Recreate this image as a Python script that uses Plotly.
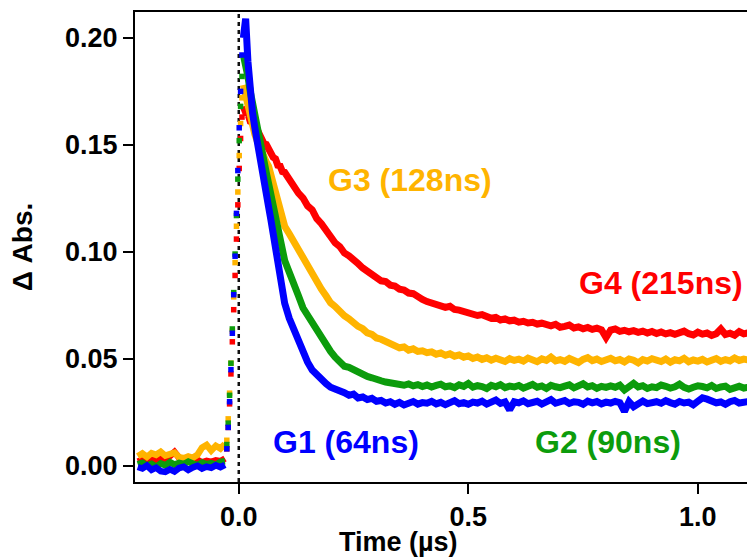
import plotly.graph_objects as go

# ---------------- data ----------------
TIME_PRE = [-0.22, -0.21, -0.20, -0.19, -0.18, -0.17, -0.16, -0.15, -0.14, -0.13,
            -0.12, -0.11, -0.10, -0.09, -0.08, -0.07, -0.06, -0.05, -0.04, -0.03]
TIME_RISE = [-0.026, -0.023, -0.020, -0.017, -0.014, -0.011, -0.008, -0.005, -0.002, 0.001, 0.004, 0.007]
TIME_DECAY = [0.010, 0.015, 0.020, 0.025, 0.030, 0.035, 0.040, 0.045, 0.050, 0.055,
              0.060, 0.065, 0.070, 0.075, 0.080, 0.085, 0.090, 0.095, 0.100,
              0.11, 0.12, 0.13, 0.14, 0.15, 0.16, 0.17, 0.18, 0.19, 0.20,
              0.21, 0.22, 0.23, 0.24, 0.25, 0.26, 0.27, 0.28, 0.29, 0.30,
              0.31, 0.32, 0.33, 0.34, 0.35, 0.36, 0.37, 0.38, 0.39, 0.40,
              0.41, 0.42, 0.43, 0.44, 0.45, 0.46, 0.47, 0.48, 0.49, 0.50,
              0.51, 0.52, 0.53, 0.54, 0.55, 0.56, 0.57, 0.58, 0.59, 0.60,
              0.61, 0.62, 0.63, 0.64, 0.65, 0.66, 0.67, 0.68, 0.69, 0.70,
              0.71, 0.72, 0.73, 0.74, 0.75, 0.76, 0.77, 0.78, 0.79, 0.80,
              0.81, 0.82, 0.83, 0.84, 0.85, 0.86, 0.87, 0.88, 0.89, 0.90,
              0.91, 0.92, 0.93, 0.94, 0.95, 0.96, 0.97, 0.98, 0.99, 1.00,
              1.01, 1.02, 1.03, 1.04, 1.05, 1.06, 1.07, 1.08, 1.09, 1.10, 1.11]

# G1 (blue)
G1_PRE = [-0.0005, -0.0012, 0.0002, -0.0018, -0.0008, -0.0024, -0.0028, -0.0016, -0.0026, -0.0010,
          -0.0004, -0.0019, -0.0007, 0.0001, -0.0012, -0.0003, -0.0009, 0.0003, -0.0006, 0.0005]
G1_RISE = [0.008, 0.018, 0.030, 0.045, 0.062, 0.080, 0.098, 0.118, 0.138, 0.158, 0.175, 0.192]
G1_DECAY = [0.200, 0.209, 0.189, 0.175, 0.165, 0.158, 0.151, 0.145, 0.139, 0.133,
            0.127, 0.121, 0.115, 0.108, 0.101, 0.094, 0.087, 0.081, 0.076,
            0.0690, 0.0635, 0.0575, 0.0520, 0.0485, 0.0448, 0.0425, 0.0398, 0.0385, 0.0368,
            0.0362, 0.0348, 0.0342, 0.0330, 0.0336, 0.0318, 0.0322, 0.0310, 0.0316, 0.0302,
            0.0306, 0.0294, 0.0300, 0.0288, 0.0297, 0.0285, 0.0292, 0.0301, 0.0289, 0.0296,
            0.0293, 0.0302, 0.0290, 0.0297, 0.0286, 0.0299, 0.0305, 0.0291, 0.0296, 0.0288,
            0.0298, 0.0294, 0.0303, 0.0289, 0.0297, 0.0308, 0.0292, 0.0299, 0.0262, 0.0300,
            0.0295, 0.0304, 0.0291, 0.0298, 0.0302, 0.0289, 0.0296, 0.0310, 0.0293, 0.0299,
            0.0306, 0.0292, 0.0300, 0.0297, 0.0288, 0.0303, 0.0295, 0.0301, 0.0290, 0.0298,
            0.0294, 0.0302, 0.0296, 0.0255, 0.0300, 0.0277, 0.0295, 0.0303, 0.0291, 0.0298,
            0.0300, 0.0293, 0.0305, 0.0296, 0.0289, 0.0301, 0.0294, 0.0298, 0.0286, 0.0302,
            0.0318, 0.0312, 0.0303, 0.0295, 0.0299, 0.0288, 0.0300, 0.0306, 0.0294, 0.0298, 0.0301]

# G2 (green)
G2_PRE = [0.0008, 0.0015, 0.0002, 0.0010, -0.0004, 0.0012, 0.0003, 0.0018, 0.0006, 0.0014,
          0.0009, 0.0020, 0.0011, 0.0004, 0.0016, 0.0008, 0.0013, 0.0005, 0.0019, 0.0022]
G2_RISE = [0.010, 0.020, 0.033, 0.048, 0.064, 0.081, 0.099, 0.117, 0.134, 0.152, 0.168, 0.182]
G2_DECAY = [0.192, 0.188, 0.182, 0.175, 0.169, 0.163, 0.157, 0.152, 0.147, 0.142,
            0.137, 0.132, 0.127, 0.122, 0.116, 0.111, 0.105, 0.100, 0.096,
            0.0905, 0.0838, 0.0795, 0.0738, 0.0702, 0.0668, 0.0628, 0.0598, 0.0562, 0.0535,
            0.0508, 0.0492, 0.0466, 0.0461, 0.0448, 0.0436, 0.0431, 0.0418, 0.0412, 0.0402,
            0.0398, 0.0392, 0.0389, 0.0381, 0.0386, 0.0377, 0.0383, 0.0374, 0.0380, 0.0371,
            0.0378, 0.0369, 0.0376, 0.0382, 0.0370, 0.0374, 0.0366, 0.0379, 0.0372, 0.0385,
            0.0368, 0.0375, 0.0371, 0.0362, 0.0377, 0.0370, 0.0380, 0.0366, 0.0373, 0.0369,
            0.0376, 0.0364, 0.0372, 0.0381, 0.0368, 0.0374, 0.0362, 0.0377, 0.0370, 0.0366,
            0.0373, 0.0379, 0.0365, 0.0371, 0.0384, 0.0369, 0.0375, 0.0363, 0.0372, 0.0367,
            0.0374, 0.0368, 0.0377, 0.0355, 0.0371, 0.0386, 0.0369, 0.0375, 0.0362, 0.0370,
            0.0366, 0.0378, 0.0372, 0.0364, 0.0370, 0.0382, 0.0367, 0.0359, 0.0368, 0.0374,
            0.0371, 0.0365, 0.0376, 0.0362, 0.0369, 0.0373, 0.0358, 0.0367, 0.0372, 0.0364, 0.0368]

# G3 (orange)
G3_PRE = [0.0045, 0.0058, 0.0042, 0.0060, 0.0052, 0.0066, 0.0048, 0.0055, 0.0062, 0.0041,
          0.0036, 0.0044, 0.0038, 0.0052, 0.0085, 0.0098, 0.0072, 0.0094, 0.0081, 0.0103]
G3_RISE = [0.012, 0.022, 0.034, 0.048, 0.063, 0.079, 0.095, 0.112, 0.128, 0.145, 0.160, 0.172]
G3_DECAY = [0.178, 0.173, 0.167, 0.162, 0.158, 0.155, 0.152, 0.149, 0.147, 0.145,
            0.142, 0.140, 0.136, 0.132, 0.127, 0.123, 0.118, 0.114, 0.112,
            0.1085, 0.1048, 0.1010, 0.0968, 0.0932, 0.0885, 0.0862, 0.0826, 0.0795, 0.0762,
            0.0745, 0.0718, 0.0702, 0.0688, 0.0668, 0.0652, 0.0641, 0.0622, 0.0615, 0.0598,
            0.0592, 0.0581, 0.0572, 0.0566, 0.0552, 0.0556, 0.0541, 0.0547, 0.0535, 0.0538,
            0.0529, 0.0533, 0.0522, 0.0528, 0.0517, 0.0524, 0.0513, 0.0519, 0.0508, 0.0514,
            0.0502, 0.0509, 0.0498, 0.0505, 0.0494, 0.0503, 0.0497, 0.0488, 0.0501, 0.0493,
            0.0499, 0.0490, 0.0504, 0.0495, 0.0487, 0.0500, 0.0493, 0.0508, 0.0491, 0.0497,
            0.0489, 0.0502, 0.0495, 0.0483, 0.0498, 0.0506, 0.0492, 0.0499, 0.0488, 0.0496,
            0.0503, 0.0491, 0.0497, 0.0486, 0.0500, 0.0494, 0.0482, 0.0497, 0.0490, 0.0501,
            0.0493, 0.0488, 0.0499, 0.0485, 0.0496, 0.0491, 0.0503, 0.0487, 0.0495, 0.0490,
            0.0498, 0.0486, 0.0494, 0.0502, 0.0489, 0.0497, 0.0491, 0.0504, 0.0493, 0.0499, 0.0495]

# G4 (red)
G4_PRE = [0.0020, 0.0028, 0.0018, 0.0031, 0.0024, 0.0033, 0.0027, 0.0042, 0.0065, 0.0038,
          0.0025, 0.0030, 0.0021, 0.0029, 0.0017, 0.0024, 0.0019, 0.0026, 0.0022, 0.0035]
G4_RISE = [0.008, 0.018, 0.029, 0.043, 0.058, 0.073, 0.089, 0.106, 0.122, 0.139, 0.153, 0.163]
G4_DECAY = [0.168, 0.165, 0.1645, 0.161, 0.1605, 0.1575, 0.1572, 0.1545, 0.1535, 0.1505,
            0.1502, 0.1475, 0.1465, 0.1442, 0.1435, 0.1405, 0.1402, 0.1375, 0.1372,
            0.1338, 0.1312, 0.1275, 0.1252, 0.1215, 0.1196, 0.1155, 0.1132, 0.1098, 0.1072,
            0.1042, 0.1025, 0.0995, 0.0982, 0.0958, 0.0945, 0.0925, 0.0912, 0.0891, 0.0882,
            0.0865, 0.0862, 0.0845, 0.0841, 0.0826, 0.0822, 0.0808, 0.0805, 0.0789, 0.0778,
            0.0768, 0.0762, 0.0755, 0.0748, 0.0741, 0.0746, 0.0731, 0.0728, 0.0720, 0.0714,
            0.0711, 0.0703, 0.0707, 0.0696, 0.0690, 0.0694, 0.0682, 0.0687, 0.0678, 0.0681,
            0.0672, 0.0676, 0.0668, 0.0671, 0.0663, 0.0667, 0.0659, 0.0655, 0.0662, 0.0648,
            0.0652, 0.0658, 0.0645, 0.0650, 0.0641, 0.0647, 0.0638, 0.0644, 0.0636, 0.0600,
            0.0635, 0.0640, 0.0629, 0.0634, 0.0627, 0.0632, 0.0624, 0.0630, 0.0621, 0.0628,
            0.0619, 0.0626, 0.0617, 0.0623, 0.0615, 0.0622, 0.0630, 0.0618, 0.0612, 0.0625,
            0.0616, 0.0621, 0.0610, 0.0618, 0.0640, 0.0614, 0.0620, 0.0611, 0.0628, 0.0617, 0.0622]

SERIES = [
    ("G4 (215ns)", "#ff0000", G4_PRE, G4_RISE, G4_DECAY, 0.9196, 0.0855),
    ("G3 (128ns)", "#ffb400", G3_PRE, G3_RISE, G3_DECAY, 0.372, 0.1336),
    ("G2 (90ns)", "#0c9c0c", G2_PRE, G2_RISE, G2_DECAY, 0.804, 0.0112),
    ("G1 (64ns)", "#0000ff", G1_PRE, G1_RISE, G1_DECAY, 0.2326, 0.0112),
]

X_TICKS = [0.0, 0.5, 1.0]
X_TICK_TEXT = ["0.0", "0.5", "1.0"]
Y_TICKS = [0.00, 0.05, 0.10, 0.15, 0.20]
Y_TICK_TEXT = ["0.00", "0.05", "0.10", "0.15", "0.20"]
X_RANGE = [-0.226, 1.107]
Y_RANGE = [-0.0075, 0.2121]
X_TITLE = "Time (µs)"
Y_TITLE = "Δ Abs."

FONT = "Liberation Sans, Arial, Helvetica, sans-serif"

fig = go.Figure()

# time-zero marker
fig.add_shape(type="line", xref="x", yref="paper", x0=0, x1=0, y0=0, y1=1,
              line=dict(color="#111111", width=2.5, dash="4px,4px"), layer="below")

for name, color, pre, rise, decay, lx, ly in SERIES:
    assert len(decay) == len(TIME_DECAY) and len(pre) == len(TIME_PRE)
    fig.add_trace(go.Scatter(x=TIME_PRE, y=pre, mode="lines",
                             line=dict(color=color, width=6.5), hoverinfo="skip"))
    fig.add_trace(go.Scatter(x=TIME_RISE, y=rise, mode="markers",
                             marker=dict(color=color, symbol="square", size=5.5, line=dict(width=0)),
                             hoverinfo="skip"))
    fig.add_trace(go.Scatter(x=TIME_DECAY, y=decay, mode="lines",
                             line=dict(color=color, width=7), hoverinfo="skip"))
    fig.add_annotation(x=lx, y=ly, xref="x", yref="y", text=name, showarrow=False,
                       xanchor="center", yanchor="middle",
                       font=dict(family=FONT, size=32, color=color, weight="bold"))

# x-axis title (placed as in the reference)
fig.add_annotation(x=0.348, y=-0.128, xref="x", yref="paper", text=X_TITLE, showarrow=False,
                   xanchor="center", yanchor="middle",
                   font=dict(family=FONT, size=27, color="black", weight="bold"))

fig.update_layout(
    width=747, height=558,
    margin=dict(l=135, r=0, t=12, b=76),
    paper_bgcolor="white", plot_bgcolor="white",
    showlegend=False,
    font=dict(family=FONT, color="black"),
)
fig.update_xaxes(
    range=X_RANGE, tickvals=X_TICKS, ticktext=X_TICK_TEXT,
    ticks="outside", ticklen=10, tickwidth=2, tickcolor="black",
    showline=True, linewidth=2, linecolor="black", mirror=True,
    showgrid=False, zeroline=False, automargin=False,
    tickfont=dict(family=FONT, size=27, color="black", weight="bold"),
    ticklabelstandoff=0,
)
fig.update_yaxes(
    range=Y_RANGE, tickvals=Y_TICKS, ticktext=Y_TICK_TEXT,
    ticks="outside", ticklen=10, tickwidth=2, tickcolor="black",
    showline=True, linewidth=2, linecolor="black", mirror=False,
    showgrid=False, zeroline=False, automargin=False,
    tickfont=dict(family=FONT, size=27, color="black", weight="bold"),
    title=dict(text=Y_TITLE, font=dict(family=FONT, size=28, color="black", weight="bold"),
               standoff=24),
)

fig.write_html("out.html")
